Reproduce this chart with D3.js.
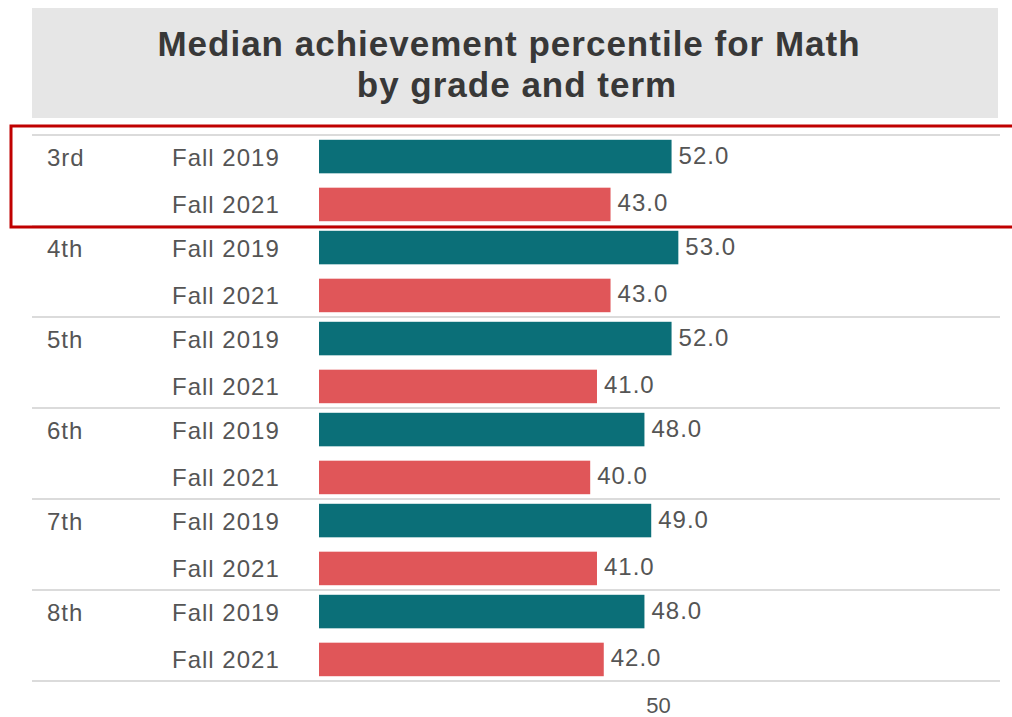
<!DOCTYPE html>
<html>
<head>
<meta charset="utf-8">
<script src="https://cdn.jsdelivr.net/npm/d3@7"></script>
<style>
  body { margin: 0; background: #fff; font-family: "Liberation Sans", Arial, sans-serif; }
  .lbl { fill: #555; font-size: 24px; letter-spacing: 1px; }
</style>
</head>
<body>
<script>
// Median achievement percentile, Math, by grade and term
var grades = ["3rd", "4th", "5th", "6th", "7th", "8th"],
    terms  = ["Fall 2019", "Fall 2021"],
    fall2019 = [52, 53, 52, 48, 49, 48],
    fall2021 = [43, 43, 41, 40, 41, 42],
    xTicks = [50];

var width = 1012, height = 717;
var colors = { "Fall 2019": "#0b6f78", "Fall 2021": "#e05659" };

var svg = d3.select("body").append("svg")
    .attr("width", width)
    .attr("height", height);

// title box
svg.append("rect")
    .attr("x", 32).attr("y", 8)
    .attr("width", 966).attr("height", 110)
    .attr("fill", "#e6e6e6");
svg.append("text")
    .attr("x", 509).attr("y", 56)
    .attr("text-anchor", "middle")
    .attr("font-size", 35).attr("font-weight", "bold").attr("fill", "#383838")
    .attr("letter-spacing", 1)
    .text("Median achievement percentile for Math");
svg.append("text")
    .attr("x", 517).attr("y", 97)
    .attr("text-anchor", "middle")
    .attr("font-size", 35).attr("font-weight", "bold").attr("fill", "#383838")
    .attr("letter-spacing", 1)
    .text("by grade and term");

var x = d3.scaleLinear().domain([0, 100]).range([319, 997]);
var y = d3.scaleBand().domain(grades).range([135, 681]);
var yInner = d3.scaleBand().domain(terms).range([0, y.bandwidth()])
    .paddingInner(0.3).paddingOuter(0.1);

var rows = [];
grades.forEach(function(g, i) {
  rows.push({ grade: g, term: terms[0], value: fall2019[i] });
  rows.push({ grade: g, term: terms[1], value: fall2021[i] });
});

function mid(d) { return y(d.grade) + yInner(d.term) + yInner.bandwidth() / 2; }

// separators
var seps = grades.concat(["end"]);
svg.selectAll("line.sep").data(seps).enter().append("line")
    .attr("class", "sep")
    .attr("x1", 32).attr("x2", 1000)
    .attr("y1", function(d) { return d === "end" ? 681 : y(d); })
    .attr("y2", function(d) { return d === "end" ? 681 : y(d); })
    .attr("stroke", "#cfcfcf").attr("stroke-width", 1.5);

// grade labels
svg.selectAll("text.grade").data(grades).enter().append("text")
    .attr("class", "lbl grade")
    .attr("x", 47)
    .attr("y", function(d) { return mid({ grade: d, term: terms[0] }) + 9; })
    .text(function(d) { return d; });

// term labels
svg.selectAll("text.term").data(rows).enter().append("text")
    .attr("class", "lbl term")
    .attr("x", 172)
    .attr("y", function(d) { return mid(d) + 9; })
    .text(function(d) { return d.term; });

// bars
svg.selectAll("rect.bar").data(rows).enter().append("rect")
    .attr("class", "bar")
    .attr("x", x(0))
    .attr("y", function(d) { return y(d.grade) + yInner(d.term); })
    .attr("width", function(d) { return x(d.value) - x(0); })
    .attr("height", yInner.bandwidth())
    .attr("fill", function(d) { return colors[d.term]; });

// value labels
svg.selectAll("text.val").data(rows).enter().append("text")
    .attr("class", "lbl val")
    .attr("x", function(d) { return x(d.value) + 7; })
    .attr("y", function(d) { return mid(d) + 7; })
    .text(function(d) { return d.value.toFixed(1); });

// x axis
var xAxis = d3.axisBottom(x).tickValues(xTicks).tickSize(0).tickPadding(0);
var gx = svg.append("g").attr("transform", "translate(0,697)").call(xAxis);
gx.select(".domain").remove();
gx.selectAll("text").attr("font-size", 22).attr("fill", "#555")
    .attr("font-family", "Liberation Sans, Arial, sans-serif");

// highlight box around 3rd grade
svg.append("rect")
    .attr("x", 11).attr("y", 126)
    .attr("width", 1010).attr("height", 101)
    .attr("fill", "none")
    .attr("stroke", "#c00000").attr("stroke-width", 3);
</script>
</body>
</html>
